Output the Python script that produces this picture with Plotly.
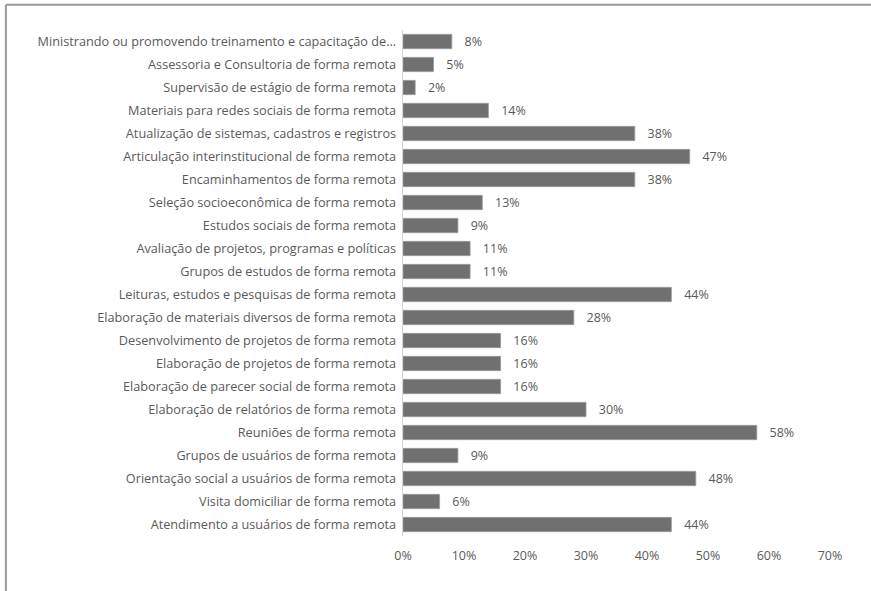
import plotly.graph_objects as go

# Activities, listed top to bottom as shown on the chart
activities = [
    "Ministrando ou promovendo treinamento e capacitação de...",
    "Assessoria e Consultoria de forma remota",
    "Supervisão de estágio de forma remota",
    "Materiais para redes sociais de forma remota",
    "Atualização de sistemas, cadastros e registros",
    "Articulação interinstitucional de forma remota",
    "Encaminhamentos de forma remota",
    "Seleção socioeconômica de forma remota",
    "Estudos sociais de forma remota",
    "Avaliação de projetos, programas e políticas",
    "Grupos de estudos de forma remota",
    "Leituras, estudos e pesquisas de forma remota",
    "Elaboração de materiais diversos de forma remota",
    "Desenvolvimento de projetos de forma remota",
    "Elaboração de projetos de forma remota",
    "Elaboração de parecer social de forma remota",
    "Elaboração de relatórios de forma remota",
    "Reuniões de forma remota",
    "Grupos de usuários de forma remota",
    "Orientação social a usuários de forma remota",
    "Visita domiciliar de forma remota",
    "Atendimento a usuários de forma remota",
]
percentages = [8, 5, 2, 14, 38, 47, 38, 13, 9, 11, 11, 44, 28, 16, 16, 16, 30, 58, 9, 48, 6, 44]
tick_values = [0, 10, 20, 30, 40, 50, 60, 70]
tick_labels = ["0%", "10%", "20%", "30%", "40%", "50%", "60%", "70%"]

font_family = "Open Sans, Liberation Sans, sans-serif"
text_gray = "#5a5a5a"

fig = go.Figure(
    go.Bar(
        x=percentages,
        y=activities,
        orientation="h",
        marker=dict(color="#707070", line=dict(color="#9a9a9a", width=0.8)),
        width=0.62,
        text=[f"   {v}%" for v in percentages],
        textposition="outside",
        constraintext="none",
        cliponaxis=False,
        textfont=dict(family=font_family, size=12.5, color=text_gray),
    )
)

fig.update_layout(
    width=871,
    height=591,
    margin=dict(l=403, r=41, t=30, b=55),
    plot_bgcolor="white",
    paper_bgcolor="white",
    showlegend=False,
    font=dict(family=font_family, size=12, color=text_gray),
    xaxis=dict(
        range=[0, 70],
        tickvals=tick_values,
        ticktext=tick_labels,
        showgrid=False,
        zeroline=False,
        showline=False,
        ticks="",
        ticklabelstandoff=10,
        tickfont=dict(family=font_family, size=12.5, color=text_gray),
    ),
    yaxis=dict(
        categoryorder="array",
        categoryarray=activities[::-1],
        range=[-0.5, len(activities) - 0.5],
        showgrid=False,
        zeroline=False,
        showline=True,
        linecolor="#d4d4d4",
        linewidth=1,
        ticks="",
        ticksuffix=" ",
        tickfont=dict(family=font_family, size=12.7, color=text_gray),
    ),
    shapes=[
        # outer frame: top and left edges
        dict(type="line", xref="paper", yref="paper",
             x0=-0.93, x1=1.2, y0=1.05, y1=1.05,
             line=dict(color="#9a9a9a", width=2)),
        dict(type="line", xref="paper", yref="paper",
             x0=-0.93, x1=-0.93, y0=1.05, y1=-0.2,
             line=dict(color="#9a9a9a", width=2)),
    ],
)

fig.write_html("out.html")
